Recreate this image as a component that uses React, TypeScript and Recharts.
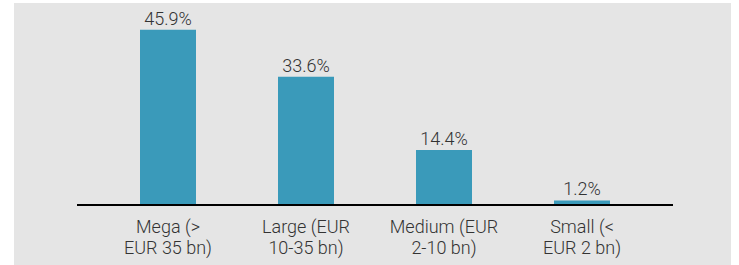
import { BarChart, Bar, XAxis, YAxis, LabelList } from 'recharts';

const categories = ['Mega (>|EUR 35 bn)', 'Large (EUR|10-35 bn)', 'Medium (EUR|2-10 bn)', 'Small (<|EUR 2 bn)'];
const shares = [45.9, 33.6, 14.4, 1.2];

const data = categories.map((name, i) => ({ name, share: shares[i] }));

const TEXT = '#333333';

// etiqueta del eje X en dos líneas (separadas por "|")
function CategoryTick(props: any) {
  const { x, y, payload } = props;
  const lines = String(payload.value).split('|');
  return (
    <text x={x} y={y} textAnchor="middle" fill={TEXT} fontSize={18} fontWeight={300} fontFamily="Roboto">
      {lines.map((l, i) => (
        <tspan key={i} x={x} dy={i === 0 ? 28 : 21}>
          {l}
        </tspan>
      ))}
    </text>
  );
}

export default function App() {
  return (
    <div style={{ position: 'fixed', left: 0, top: 0, width: 739, height: 265, background: '#ffffff' }}>
      <div style={{ position: 'absolute', left: 14, top: 3, width: 717, height: 262, background: '#e5e5e5' }}>
        <BarChart width={717} height={262} data={data} margin={{ top: 11, right: 58, bottom: 0, left: 63 }} barSize={56}>
          <XAxis
            dataKey="name"
            axisLine={{ stroke: '#000000', strokeWidth: 2 }}
            tickLine={false}
            tickSize={0}
            tickMargin={0}
            height={60}
            padding={{ left: 22, right: 22 }}
            interval={0}
            tick={<CategoryTick />}
          />
          <YAxis hide domain={[0, 50]} />
          <Bar dataKey="share" fill="#3a9aba" isAnimationActive={false}>
            <LabelList
              dataKey="share"
              position="top"
              offset={5}
              formatter={(v: any) => `${Number(v).toFixed(1)}%`}
              fill={TEXT}
              fontSize={18}
              fontWeight={300}
              fontFamily="Roboto"
            />
          </Bar>
        </BarChart>
      </div>
    </div>
  );
}
